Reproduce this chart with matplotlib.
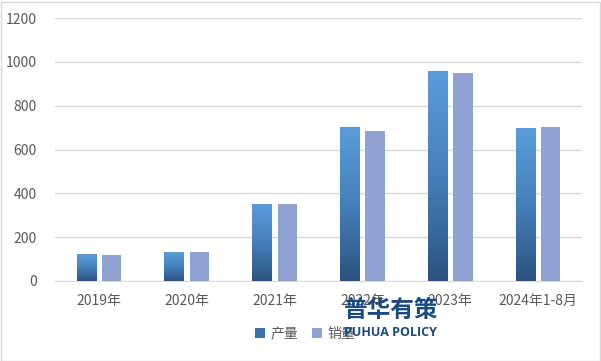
import matplotlib
matplotlib.use("Agg")
import matplotlib.pyplot as plt
import numpy as np
from matplotlib.colors import LinearSegmentedColormap
from matplotlib.patches import Rectangle

plt.rcParams['font.family'] = ['Noto Sans CJK SC', 'DejaVu Sans']

categories = ["2019年", "2020年", "2021年", "2022年", "2023年", "2024年1-8月"]
production = [123, 132, 351, 703, 958, 698]
sales = [119, 132, 351, 684, 949, 703]
yticks = [0, 200, 400, 600, 800, 1000, 1200]

fig = plt.figure(figsize=(6.01, 3.61), dpi=100)
ax = fig.add_axes([55/601, 1 - 281/361, 527/601, 263/361])

x = np.arange(len(categories))
w = 0.22
gap = 0.07
prod_bars = ax.bar(x - (w + gap) / 2, production, w, color='none', zorder=3)
sales_bars = ax.bar(x + (w + gap) / 2, sales, w, color='#8FA2D2', zorder=3)

cmap = LinearSegmentedColormap.from_list('g', ['#2C5380', '#4580BC', '#5A9CDB'])
grad = np.linspace(0, 1, 256).reshape(-1, 1)
for b in prod_bars:
    bx, by, bw, bh = b.get_x(), b.get_y(), b.get_width(), b.get_height()
    im = ax.imshow(grad, extent=[bx, bx + bw, by, by + bh], origin='lower',
                   cmap=cmap, aspect='auto', zorder=3)
    im.set_clip_path(b)

ax.set_xlim(-0.5, len(categories) - 0.5)
ax.set_ylim(0, 1200)
ax.set_yticks(yticks)
ax.set_xticks(x)
ax.set_xticklabels(categories)
ax.tick_params(axis='both', length=0, labelsize=10, colors='#595959')
ax.tick_params(axis='x', pad=9)
ax.tick_params(axis='y', pad=13)
ax.grid(axis='y', color='#D9D9D9', linewidth=1, zorder=0)
for s in ['top', 'right', 'left']:
    ax.spines[s].set_visible(False)
ax.spines['bottom'].set_color('#D9D9D9')

# legend
h1 = Rectangle((0, 0), 1, 1, facecolor='#3D72A8')
h2 = Rectangle((0, 0), 1, 1, facecolor='#8FA2D2')
leg = fig.legend([h1, h2], ['产量', '销量'], loc='center', bbox_to_anchor=(305/601, 1 - 334/361),
                 ncol=2, frameon=False, fontsize=10, handlelength=0.7, handleheight=0.7,
                 handletextpad=0.4, columnspacing=1.0, labelcolor='#595959')

# watermark
fig.text(391/601, 1 - 310/361, '普华有策', ha='center', va='center', fontsize=17,
         fontweight='heavy', color='#1B4A80', zorder=10)
fig.text(391/601, 1 - 332/361, 'PUHUA POLICY', ha='center', va='center', fontsize=9,
         fontweight='bold', color='#1B4A80', family=['Open Sans', 'DejaVu Sans'], zorder=10)

# outer border
fig.patches.append(Rectangle((0.5/601, 0.5/361), 599/601, 359/361, transform=fig.transFigure,
                             fill=False, edgecolor='#D9D9D9', linewidth=1))

fig.savefig('out.png', dpi=100)
